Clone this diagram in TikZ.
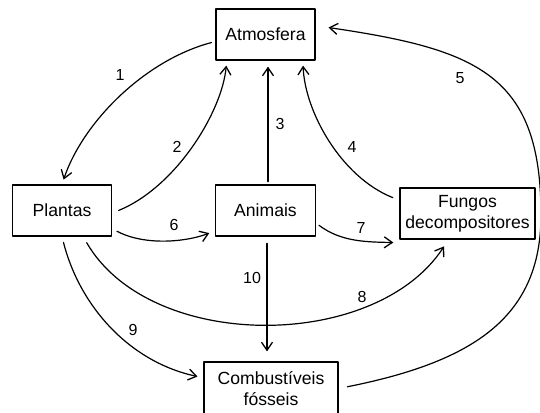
\documentclass[tikz,border=0pt]{standalone}
\usepackage{fontspec}
\setmainfont{Liberation Sans}
\usetikzlibrary{arrows.meta}
\tikzset{
    cbox/.style={draw=black, line width=1.3pt, minimum width=99pt, minimum height=51pt, align=center, inner sep=0pt, font=\fontsize{17.6}{21}\selectfont},
    cline/.style={-{Straight Barb[length=8pt, width=11pt, line width=1.3pt]}, line width=1.2pt, shorten <=4pt, shorten >=5pt},
    cthick/.style={cline, line width=1.9pt},
    cnum/.style={font=\fontsize{16}{18}\selectfont, inner sep=0pt}
}
\begin{document}
\begin{tikzpicture}[x=1pt, y=1pt, line cap=round, line join=round]
            \useasboundingbox (0,0) rectangle (540,412);
            \node[cbox] (atm) at (265.5,377.5) {Atmosfera};
            \node[cbox] (pla) at (62,201.5) {Plantas};
            \node[cbox, minimum width=100pt] (ani) at (265.5,201.5) {Animais};
            \node[cbox, minimum width=135pt] (fun) at (467.5,198.5) {Fungos\\decompositores};
            \node[cbox, minimum width=134pt, minimum height=53pt] (com) at (271,23.5) {Combust\'iveis\\f\'osseis};
            \coordinate (c5) at (541,197);

            \draw[cline] (atm.188) .. controls (145,352) and (83,290) .. (pla.north);
            \draw[cline, shorten <=7pt] (pla.-3) .. controls (176,225) and (222,300) .. (atm.-146.5);
            \draw[cthick, shorten <=3pt, shorten >=6pt] ([xshift=2.5pt]ani.north) -- ([xshift=2.5pt]atm.south);
            \draw[cline, shorten <=7pt] (fun.169) .. controls (341,235) and (305,300) .. (atm.-35.5);
            \draw[cline, shorten <=9pt, shorten >=13pt] (com.east) .. controls (477,51) and (541,97) .. (c5)
                .. controls (541,337) and (478,362.5) .. (atm.10);
            \draw[cline, shorten <=5.5pt, shorten >=6pt] (pla.-20) .. controls (145,166) and (186,170) .. (ani.202);
            \draw[cline, shorten <=3.5pt, shorten >=6pt] (ani.-14) .. controls (341,170) and (367,170) .. ([yshift=-3pt]fun.south west);
            \draw[cline, shorten <=7pt, shorten >=8pt] (pla.-51) .. controls (150,60) and (375,60) .. (fun.234);
            \draw[cline, shorten <=6pt, shorten >=6pt] (pla.south) .. controls (80,105) and (130,50) .. (com.171);
            \draw[cthick, shorten <=7pt, shorten >=10pt] ([xshift=1.5pt]ani.south) -- ([xshift=1.5pt]ani.south |- com.north);

            \node[cnum] (n1) at (120,337) {1};
            \node[cnum] (n2) at (177,265) {2};
            \node[cnum] (n3) at (280,288) {3};
            \node[cnum] (n4) at (352,265) {4};
            \node[cnum] (n5) at (460,334) {5};
            \node[cnum] (n6) at (174,187) {6};
            \node[cnum] (n7) at (361,184) {7};
            \node[cnum] (n8) at (362,115) {8};
            \node[cnum] (n9) at (133,82) {9};
            \node[cnum] (n10) at (252,134) {10};
        \end{tikzpicture}
\end{document}
